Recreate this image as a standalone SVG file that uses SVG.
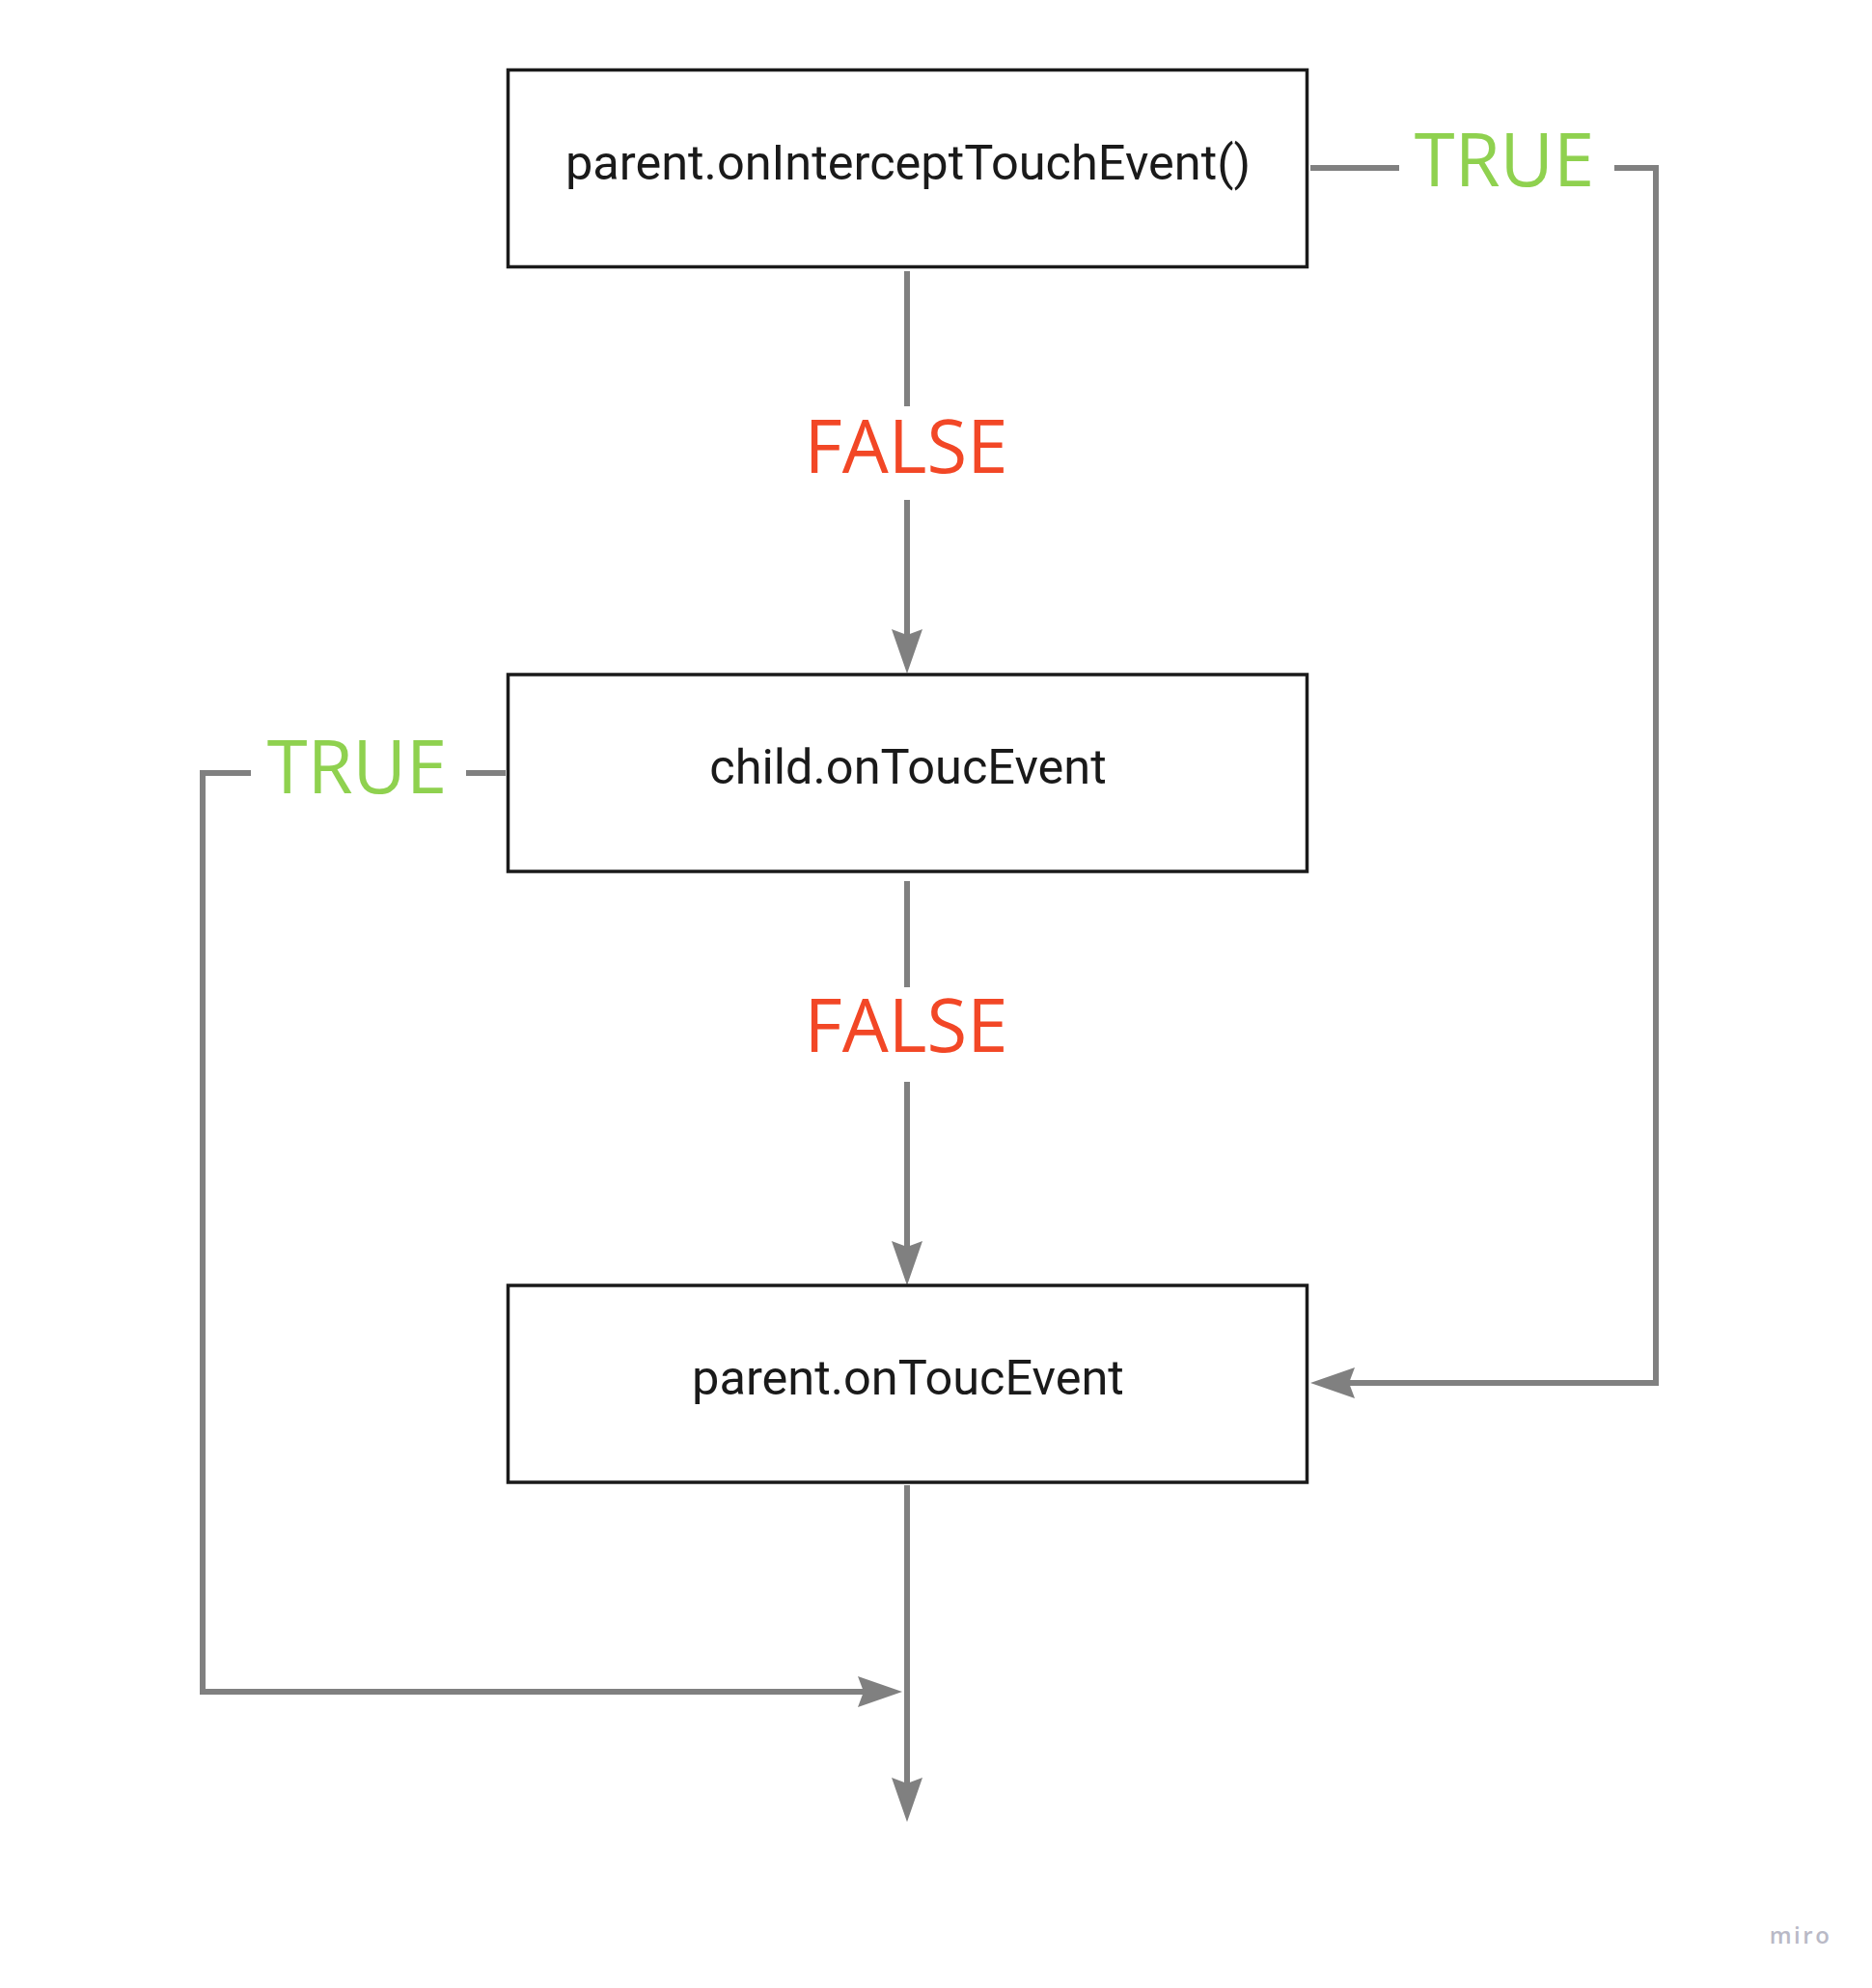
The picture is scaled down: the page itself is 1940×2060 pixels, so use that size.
<svg xmlns="http://www.w3.org/2000/svg" width="1940" height="2060" viewBox="0 0 1940 2060">
<style>
.box{fill:#ffffff;stroke:#1a1a1a;stroke-width:3.5}
.lbl{font-family:Roboto,"Liberation Sans",sans-serif;font-size:50.5px;fill:#1a1a1a;text-anchor:middle}
.t{font-family:"Open Sans","Noto Sans",sans-serif;font-size:76px;fill:#8fd14f;text-anchor:middle}
.f{font-family:"Open Sans","Noto Sans",sans-serif;font-size:76px;fill:#f24726;text-anchor:middle}
.ln{fill:none;stroke:#808080;stroke-width:6;stroke-linejoin:miter;stroke-linecap:butt}
</style>
<defs>
<marker id="arr" markerUnits="userSpaceOnUse" viewBox="-8 -18 50 36" markerWidth="50" markerHeight="36" refX="0" refY="0" orient="auto">
<path d="M-6,-16 L40,0 L-6,16 L0,0 Z" fill="#808080"/>
</marker>
</defs>
<rect width="1940" height="2060" fill="#ffffff"/>
<g id="connectors">
<path class="ln" d="M940,281 V421"/>
<path class="ln" d="M940,518 V658" marker-end="url(#arr)"/>
<path class="ln" d="M940,913 V1023"/>
<path class="ln" d="M940,1121 V1292" marker-end="url(#arr)"/>
<path class="ln" d="M940,1539 V1848" marker-end="url(#arr)"/>
<path class="ln" d="M524,801 H483"/>
<path class="ln" d="M260,801 H210 V1753 H895" marker-end="url(#arr)"/>
<path class="ln" d="M1358,174 H1450"/>
<path class="ln" d="M1673,174 H1716 V1433 H1398" marker-end="url(#arr)"/>
<text class="f" x="939" y="490">FALSE</text>
<text class="f" x="939" y="1090">FALSE</text>
<text class="t" x="1559" y="193">TRUE</text>
<text class="t" x="370" y="822">TRUE</text>
</g>
<g id="node-intercept">
<rect class="box" x="526.5" y="72.5" width="828" height="204"/>
<text class="lbl" x="941" y="186">parent.onInterceptTouchEvent()</text>
</g>
<g id="node-child">
<rect class="box" x="526.5" y="699" width="828" height="204"/>
<text class="lbl" x="941" y="812">child.onToucEvent</text>
</g>
<g id="node-parent">
<rect class="box" x="526.5" y="1332" width="828" height="204"/>
<text class="lbl" x="941" y="1445">parent.onToucEvent</text>
</g>
<text x="1866" y="2014" font-family="'Open Sans','Noto Sans',sans-serif" font-size="24" font-weight="600" letter-spacing="2.5" fill="#b9b9c6" text-anchor="middle">miro</text>
</svg>
